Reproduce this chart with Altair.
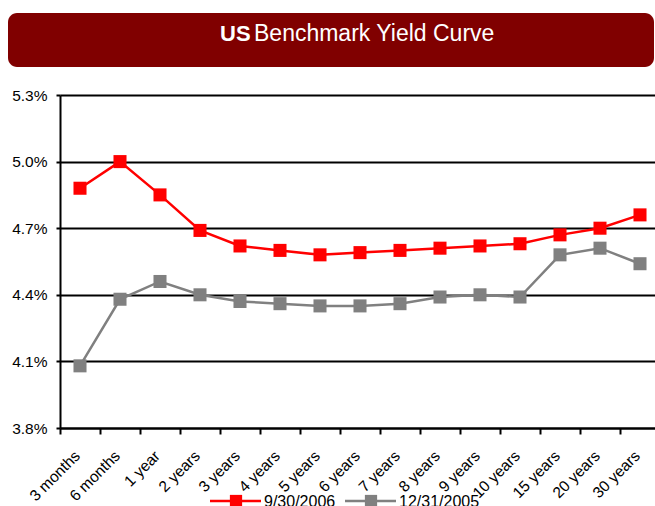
import altair as alt
import pandas as pd

tenors = ["3 months", "6 months", "1 year", "2 years", "3 years", "4 years",
          "5 years", "6 years", "7 years", "8 years", "9 years", "10 years",
          "15 years", "20 years", "30 years"]
yield_2006 = [4.88, 5.00, 4.85, 4.69, 4.62, 4.60, 4.58, 4.59, 4.60, 4.61,
              4.62, 4.63, 4.67, 4.70, 4.76]
yield_2005 = [4.08, 4.38, 4.46, 4.40, 4.37, 4.36, 4.35, 4.35, 4.36, 4.39,
              4.40, 4.39, 4.58, 4.61, 4.54]
series_names = ["9/30/2006", "12/31/2005"]
series_colors = ["#FF0000", "#808080"]
y_ticks = [3.8, 4.1, 4.4, 4.7, 5.0, 5.3]

FONT = "Liberation Sans"

rows = []
for name, vals in zip(series_names, [yield_2006, yield_2005]):
    for t, v in zip(tenors, vals):
        rows.append({"tenor": t, "yield": v, "series": name})
df = pd.DataFrame(rows)

x_enc = alt.X("tenor:N", sort=tenors,
              scale=alt.Scale(type="band", range=[0, 600], paddingInner=0, paddingOuter=0),
              axis=alt.Axis(title=None, tickBand="extent", labelAngle=-45,
                            labelAlign="right", labelBaseline="top",
                            labelFont=FONT, labelFontSize=15.5, labelColor="#000000",
                            labelPadding=14, labelOffset=-8,
                            domainColor="#000000", domainWidth=2,
                            tickColor="#000000", tickWidth=2, tickSize=6,
                            grid=False))
y_enc = alt.Y("yield:Q",
              scale=alt.Scale(domain=[3.8, 5.3], nice=False, zero=False),
              axis=alt.Axis(title=None, values=y_ticks,
                            labelExpr="format(datum.value, '.1f') + '%'",
                            labelFont=FONT, labelFontSize=15.5, labelColor="#000000",
                            labelPadding=9,
                            domainColor="#000000", domainWidth=2,
                            tickColor="#000000", tickWidth=2, tickSize=4,
                            grid=True, gridColor="#000000", gridWidth=2))
color_enc = alt.Color("series:N",
                      scale=alt.Scale(domain=series_names, range=series_colors),
                      legend=None)

base = alt.Chart(df)
lines = base.mark_line(strokeWidth=2.5).encode(x=x_enc, y=y_enc, color=color_enc,
                                                detail="series:N")
points = base.mark_square(size=170, opacity=1).encode(x=x_enc, y=y_enc, color=color_enc)

# Title banner
one = pd.DataFrame({"k": [0]})
banner = alt.Chart(one).mark_rect(color="#800000", cornerRadius=9).encode(
    x=alt.value(-52), x2=alt.value(594), y=alt.value(-82), y2=alt.value(-28))
title_us = alt.Chart(pd.DataFrame({"t": ["US"]})).mark_text(
    font=FONT, fontSize=22, fontWeight="bold", color="white", align="left",
    baseline="alphabetic").encode(text="t:N", x=alt.value(160), y=alt.value(-54))
title_rest = alt.Chart(pd.DataFrame({"t": ["Benchmark Yield Curve"]})).mark_text(
    font=FONT, fontSize=23, color="white", align="left",
    baseline="alphabetic").encode(text="t:N", x=alt.value(194), y=alt.value(-54))

# Custom legend (line + square, like the spreadsheet legend)
legend_layers = []
leg_y = 406
for i, (name, col) in enumerate(zip(series_names, series_colors)):
    x0 = 150 + i * 135
    d = pd.DataFrame({"t": [name]})
    legend_layers.append(alt.Chart(d).mark_rule(color=col, strokeWidth=2.5).encode(
        x=alt.value(x0), x2=alt.value(x0 + 51), y=alt.value(leg_y)))
    legend_layers.append(alt.Chart(d).mark_square(color=col, size=150, opacity=1).encode(
        x=alt.value(x0 + 26), y=alt.value(leg_y)))
    legend_layers.append(alt.Chart(d).mark_text(
        font=FONT, fontSize=16, color="#000000", align="left", baseline="middle").encode(
        text="t:N", x=alt.value(x0 + 54), y=alt.value(leg_y + 1)))

chart = alt.layer(banner, title_us, title_rest, lines, points, *legend_layers).properties(
    width=595, height=333,
    autosize=alt.AutoSizeParams(type="none"),
    padding={"left": 60, "top": 95, "right": 0, "bottom": 78},
    background="white",
).configure_view(stroke=None)

chart.save("out.html", embed_options={"renderer": "svg", "actions": False})
